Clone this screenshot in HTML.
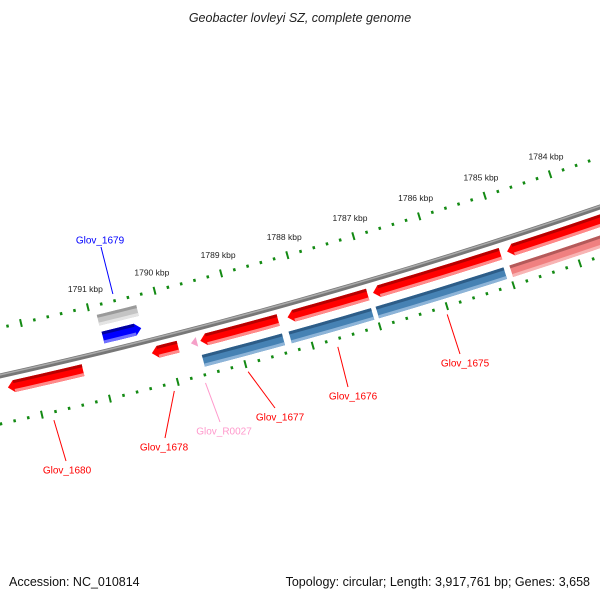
<!DOCTYPE html>
<html><head><meta charset="utf-8">
<style>
body{margin:0;background:#fff;}
svg{display:block;font-family:"Liberation Sans","DejaVu Sans",sans-serif;}
</style></head>
<body>
<svg id="map" width="600" height="600" viewBox="0 0 600 600" xmlns="http://www.w3.org/2000/svg">
<rect width="600" height="600" fill="#fff"/>
<text x="300" y="22" text-anchor="middle" font-size="12.5" font-style="italic" fill="#222">Geobacter lovleyi SZ, complete genome</text>
<g id="rings"></g>
<g id="features"></g>
<g id="labels"></g>
<text x="9" y="586" font-size="12.5" fill="#111">Accession: NC_010814</text>
<text x="590" y="586" text-anchor="end" font-size="12.5" fill="#111">Topology: circular; Length: 3,917,761 bp; Genes: 3,658</text>
</svg>
<script>
// ---- data ----
const tickKbp = [1784,1785,1786,1787,1788,1789,1790,1791,1792];
const tickLabels = ["1784 kbp","1785 kbp","1786 kbp","1787 kbp","1788 kbp","1789 kbp","1790 kbp","1791 kbp",""];
const featNames = ["Glov_1680","Glov_1678","Glov_R0027","Glov_1677r","Glov_1676r","Glov_1675r","Glov_1674r","Glov_1679g","Glov_1679","Glov_1677","Glov_1676","Glov_1675","Glov_1674b"];
const featStart = [1791.28,1789.87,1789.59,1788.38,1787.04,1785.04,1782.0,1790.31,1790.32,1788.38,1787.05,1785.06,1782.0];
const featEnd   = [1792.39,1790.26,1789.68,1789.54,1788.24,1786.96,1784.94,1790.90,1790.89,1789.57,1788.28,1786.98,1784.97];
const featTrack = ["red","red","pinktri","red","red","red","red","gray","blue","steel","steel","steel","coral"];
const labelText = ["Glov_1679","Glov_1680","Glov_1678","Glov_R0027","Glov_1677","Glov_1676","Glov_1675"];
const labelKbp  = [1790.6,1791.85,1790.08,1789.62,1788.99,1787.66,1786.03];
const labelColor= ["#0000ff","#ff0000","#ff0000","#ff99cc","#ff0000","#ff0000","#ff0000"];

// ---- layout (label text positions, px) ----
const labelX=[100,67,164,224,280,353,465];
const labelY=[240,470,447,431,417,396,363];

// ---- geometry ----
const CX=-1220, CY=-5107;
function ang(k){return (76.42-(1791-k)*0.707)*Math.PI/180;}
function pt(k,r){const a=ang(k);return [CX+r*Math.cos(a),CY+r*Math.sin(a)];}
const NS="http://www.w3.org/2000/svg";
function mk(tag,attrs,parent){const e=document.createElementNS(NS,tag);for(const k in attrs)e.setAttribute(k,attrs[k]);parent.appendChild(e);return e;}
function arcPts(k1,k2,r,n){const p=[];for(let i=0;i<=n;i++){p.push(pt(k1+(k2-k1)*i/n,r));}return p;}
function poly(p){return p.map(q=>q[0].toFixed(2)+","+q[1].toFixed(2)).join(" ");}

const rings=document.getElementById('rings');
const bb=mk('polyline',{points:poly(arcPts(1782,1793.5,5617,40)),fill:'none',stroke:'#777','stroke-width':5},rings);


const bb2=mk('polyline',{points:poly(arcPts(1782,1793.5,5616,40)),fill:'none',stroke:'#aaa','stroke-width':1.5},rings);



[[5570,'upper'],[5664,'lower']].forEach(([R,nm])=>{
  for(let t=17820;t<=17940;t+=2){
    const k=t/10; const major=(t%10===0);
    const L=major?4:1.5;
    const a=pt(k,R-L),b=pt(k,R+L);
    const ln=mk('line',{x1:a[0],y1:a[1],x2:b[0],y2:b[1],stroke:'#138a13','stroke-width':major?2:2.5},rings);
    
    
  }
});
tickKbp.forEach((k,i)=>{
  if(!tickLabels[i])return;
  const p=pt(k,5551);
  const tx=mk('text',{x:p[0]+2,y:p[1]+3,'text-anchor':'middle','font-size':'8.5',fill:'#222'},rings);
  tx.textContent=tickLabels[i];
  
  
});

const styles={
  red:{r:5630,h:12,fill:'#ff0000',top:'#b80000',bot:'#ff8a8a',arrow:true},
  steel:{r:5650,h:12,fill:'#4682b4',top:'#2d5d88',bot:'#8db4d8',arrow:false},
  coral:{r:5650,h:12,fill:'#f08080',top:'#b45a5a',bot:'#f8b4b4',arrow:false},
  gray:{r:5585,h:11,fill:'#c4c4c4',top:'#9a9a9a',bot:'#e4e4e4',arrow:false},
  blue:{r:5603,h:12,fill:'#0000ff',top:'#0000a0',bot:'#7070ff',arrow:true,right:true},
  pinktri:{r:5630,h:10,fill:'#f5a0c8',top:'#e080b0',bot:'#f8c0dc',arrow:true}
};
const fg=document.getElementById('features');
featNames.forEach((nm,i)=>{
  const s=styles[featTrack[i]];
  const lo=featStart[i],hi=featEnd[i],r=s.r,h=s.h;
  const head=0.09;
  let pts;
  if(featTrack[i]==='pinktri'){
    pts=[pt(hi,r),pt(lo,r-h/2),pt(lo,r+h/2)];
  } else if(s.arrow && s.right){
    pts=arcPts(hi,lo+head,r-h/2,8).concat([pt(lo,r)]).concat(arcPts(lo+head,hi,r+h/2,8));
  } else if(s.arrow){
    pts=arcPts(lo,hi-head,r-h/2,10).concat([pt(hi,r)]).concat(arcPts(hi-head,lo,r+h/2,10));
  } else {
    pts=arcPts(lo,hi,r-h/2,10).concat(arcPts(hi,lo,r+h/2,10));
  }
  const g=mk('g',{},fg);
  
  
  mk('polygon',{points:poly(pts),fill:s.fill},g);
  if(featTrack[i]!=='pinktri'){
    const a1=s.arrow&&!s.right?hi-head:hi, a0=s.arrow&&s.right?lo+head:lo;
    const top=arcPts(a0,a1,r-h/2,8).concat(arcPts(a1,a0,r-h/2+3,8));
    mk('polygon',{points:poly(top),fill:s.top},g);
    const bot=arcPts(a0,a1,r+h/2-3,8).concat(arcPts(a1,a0,r+h/2,8));
    mk('polygon',{points:poly(bot),fill:s.bot},g);
  }
});

const lg=document.getElementById('labels');
labelText.forEach((t,i)=>{
  const k=labelKbp[i];
  const up=(i===0);
  const a=up?pt(k,5563):pt(k,5672);
  const ex=labelX[i]+(up?1:(i===1?-1:(i===3?-4:(i===2?1:-5))));
  const ey=up?labelY[i]+7:labelY[i]-9;
  const ln=mk('line',{x1:a[0],y1:a[1],x2:ex,y2:ey,stroke:labelColor[i],'stroke-width':1},lg);
  
  
  const tx=mk('text',{x:labelX[i],y:labelY[i]+3.5,'text-anchor':'middle','font-size':'10',fill:labelColor[i]},lg);
  tx.textContent=t;
  
  
});
</script>
</body></html>
